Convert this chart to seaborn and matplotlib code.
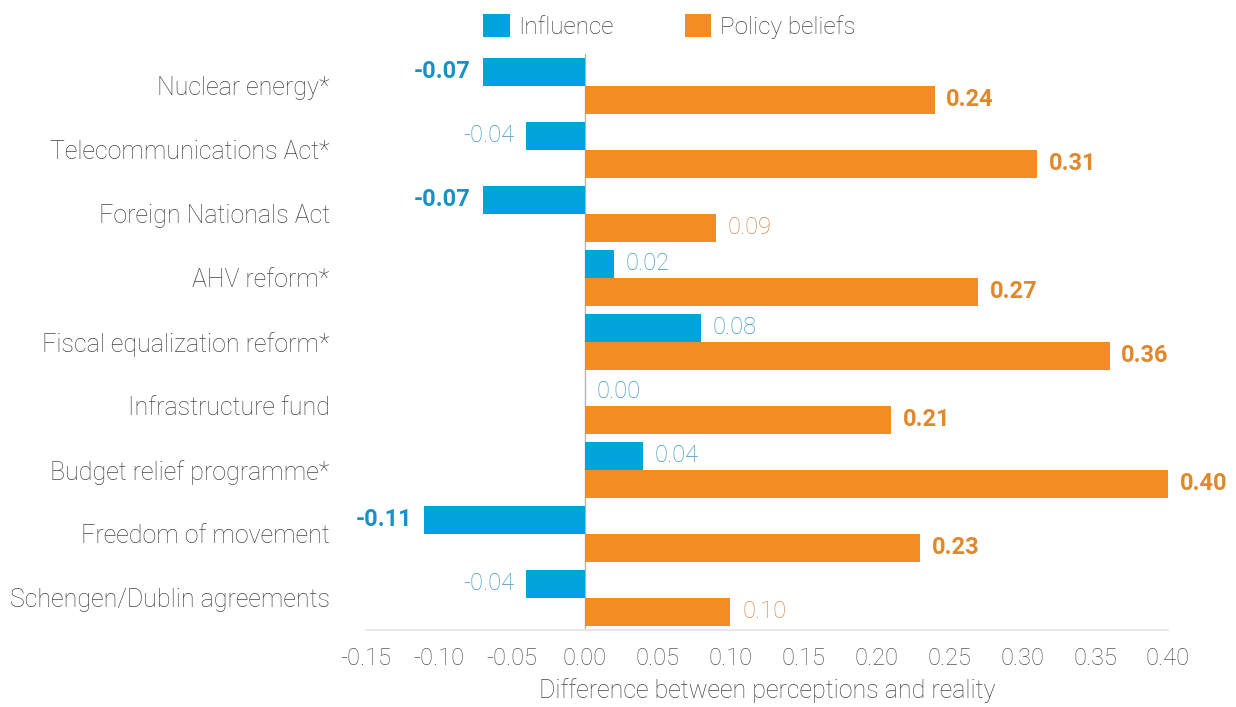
import matplotlib
matplotlib.use("Agg")
import matplotlib.pyplot as plt
import seaborn as sns
import pandas as pd
from matplotlib.patches import Patch

topics = ["Nuclear energy*", "Telecommunications Act*", "Foreign Nationals Act",
          "AHV reform*", "Fiscal equalization reform*", "Infrastructure fund",
          "Budget relief programme*", "Freedom of movement", "Schengen/Dublin agreements"]
influence = [-0.07, -0.04, -0.07, 0.02, 0.08, 0.00, 0.04, -0.11, -0.04]
policy = [0.24, 0.31, 0.09, 0.27, 0.36, 0.21, 0.40, 0.23, 0.10]
influence_sig = [True, False, True, False, False, False, False, True, False]
policy_sig = [True, True, False, True, True, True, True, True, False]
series = ["Influence", "Policy beliefs"]
x_ticks = [-0.15, -0.10, -0.05, 0.00, 0.05, 0.10, 0.15, 0.20, 0.25, 0.30, 0.35, 0.40]

BLUE = "#00a3dc"
ORANGE = "#f28c23"

df = pd.DataFrame({
    "topic": topics * 2,
    "value": influence + policy,
    "series": [series[0]] * len(topics) + [series[1]] * len(topics),
})

sns.set_style("white")
plt.rcParams["font.family"] = ["Roboto", "DejaVu Sans"]

fig = plt.figure(figsize=(12.36, 7.07), dpi=100)
ax = fig.add_axes([0.296, 0.109, 0.649, 0.815])

sns.barplot(data=df, y="topic", x="value", hue="series", orient="h",
            palette=[BLUE, ORANGE], width=0.875, dodge=True, ax=ax,
            legend=False, saturation=1, edgecolor="none")

ax.set_xlim(-0.15, 0.40)
ax.set_ylim(len(topics) - 0.5, -0.5)
ax.axvline(0, color="#b5b5b5", lw=1, zorder=0)

for sp in ["left", "top", "right"]:
    ax.spines[sp].set_visible(False)
ax.spines["bottom"].set_color("#e3e3e3")
ax.spines["bottom"].set_linewidth(1.2)
ax.spines["bottom"].set_bounds(-0.15, 0.40)

ax.set_xticks(x_ticks)
ax.set_xticklabels([f"{t:.2f}" for t in x_ticks])
ax.tick_params(axis="x", direction="inout", length=8, width=1, color="#b0b0b0",
               labelsize=17, labelcolor="#555555", pad=8)
ax.tick_params(axis="y", length=0, labelsize=18, labelcolor="#444444", pad=26)
for lbl in ax.get_xticklabels() + ax.get_yticklabels():
    lbl.set_fontweight("light")

ax.set_xlabel("Difference between perceptions and reality", fontsize=18,
              color="#444444", fontweight="light", labelpad=6)
ax.set_ylabel("")

label_styles = {
    (0, True): ("#1991c8", "bold"),
    (0, False): ("#3d98c2", "light"),
    (1, True): ("#e2872a", "bold"),
    (1, False): ("#d08a48", "light"),
}
sigs = [influence_sig, policy_sig]
for si, cont in enumerate(ax.containers):
    for bi, bar in enumerate(cont):
        w = bar.get_width()
        yc = bar.get_y() + bar.get_height() / 2
        col, wt = label_styles[(si, sigs[si][bi])]
        off = 0.008
        if w < 0:
            ax.text(w - off, yc, f"{w:.2f}", ha="right", va="center",
                    fontsize=17, color=col, fontweight=wt)
        else:
            ax.text(w + off, yc, f"{w:.2f}", ha="left", va="center",
                    fontsize=17, color=col, fontweight=wt)

handles = [Patch(facecolor=BLUE, edgecolor="none"), Patch(facecolor=ORANGE, edgecolor="none")]
leg = fig.legend(handles, series, loc="center", bbox_to_anchor=(0.5415, 0.963), ncol=2,
                 frameon=False, fontsize=17.5, handlelength=1.1, handleheight=1.1,
                 handletextpad=0.35, columnspacing=2.9)
for t in leg.get_texts():
    t.set_color("#444444")
    t.set_fontweight("light")

fig.savefig("out.png", dpi=100)
